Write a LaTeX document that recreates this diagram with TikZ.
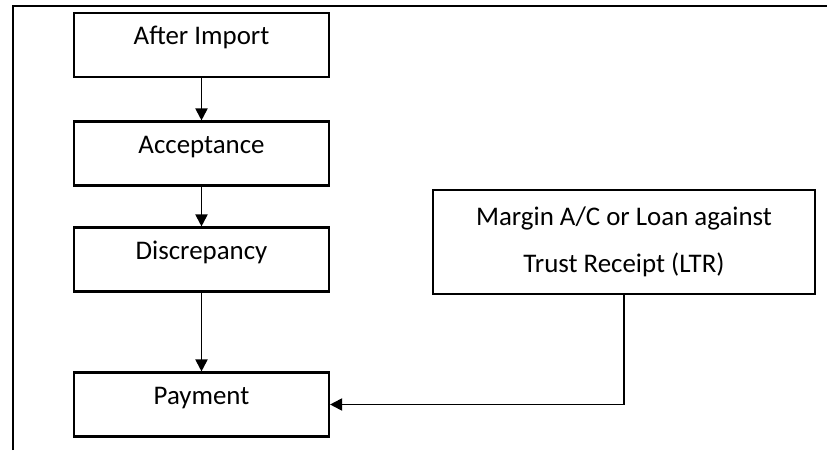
\documentclass[tikz,border=0pt]{standalone}
\usepackage{fontspec}
\setmainfont{Carlito}
\usetikzlibrary{arrows.meta}

\begin{document}
\begin{tikzpicture}[
  base/.style={draw, line width=1.2pt, inner sep=0pt},
  box/.style={base, minimum width=5.1cm, minimum height=1.28cm,
    text height=0.4cm, text depth=0.4cm, font=\fontsize{15.3}{18}\selectfont},
  wide/.style={base, minimum width=7.64cm, minimum height=2.08cm,
    align=center, font=\fontsize{15.3}{26.7}\selectfont},
  arr/.style={line width=1.1pt, -{Triangle[length=0.24cm,width=0.24cm]}}
]

\useasboundingbox (0,0) rectangle (16.54,9);

\coordinate (O) at (0.26,0);
\coordinate (P) at (0.26,8.88);
\coordinate (Q) at (16.54,8.88);
\draw[line width=1.4pt] (O) -- (P) -- (Q);

\node[box] (Imp) at (4.03,8.1) {After Import};
\node[box] (Acc) at (4.03,5.93) {Acceptance};
\node[box] (Disc) at (4.03,3.81) {Discrepancy};
\node[box] (Pay) at (4.03,0.91) {Payment};
\node[wide] (LTR) at (12.48,4.16) {Margin A/C or Loan against\\Trust Receipt (LTR)};

\draw[arr] (Imp) -- (Acc);
\draw[arr] (Acc) -- (Disc);
\draw[arr] (Disc) -- (Pay);
\draw[arr] (LTR) |- (Pay);

\end{tikzpicture}
\end{document}
